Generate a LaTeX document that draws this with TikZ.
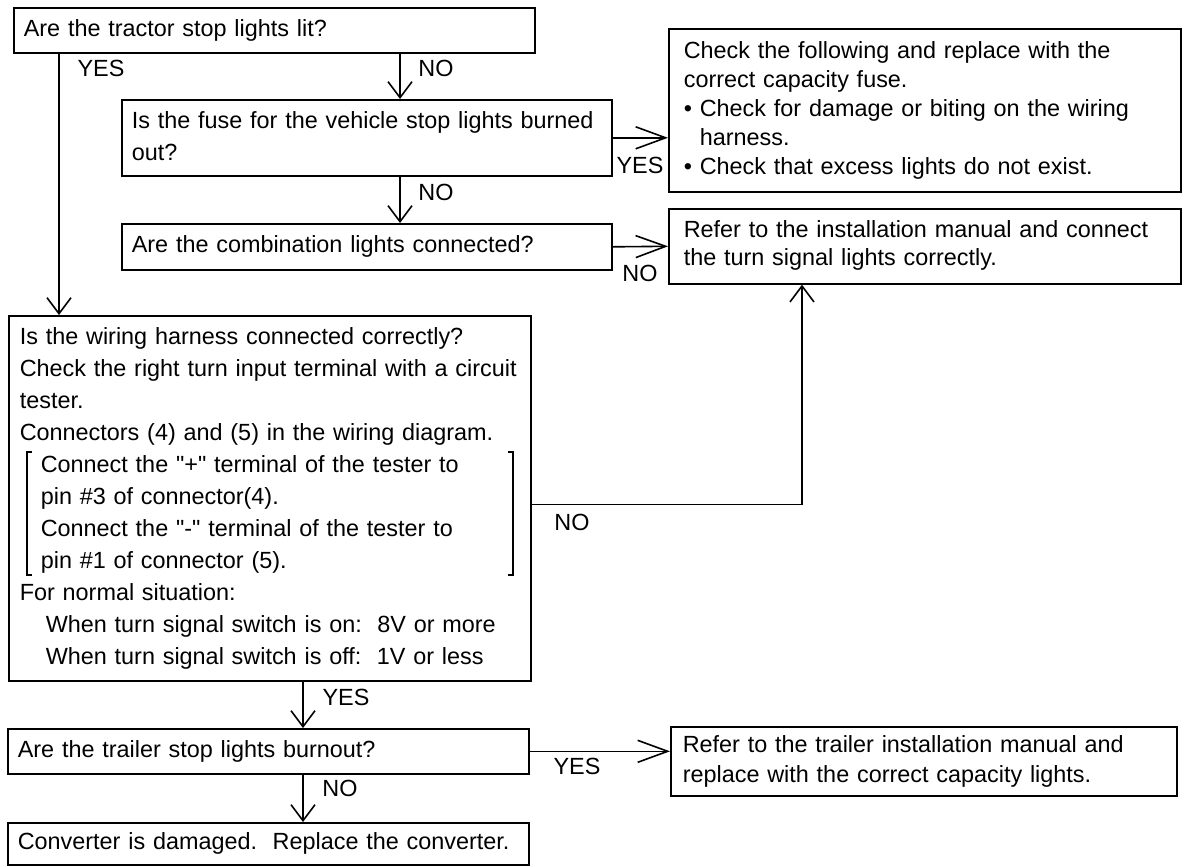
\documentclass[tikz,border=0pt]{standalone}
\usepackage{fontspec}
\setmainfont{Liberation Sans}
\usetikzlibrary{arrows.meta, positioning}

\newcommand{\boxlines}[1]{\begin{tabular}{@{}l@{}}#1\end{tabular}}
\newcommand{\dq}{\XeTeXglyph\the\XeTeXcharglyph34\relax}

\tikzset{
  box/.style={draw, line width=0.8bp, anchor=north west, align=left,
    inner xsep=5bp, inner ysep=0pt, font=\fontsize{11.7bp}{15bp}\selectfont},
  lbl/.style={font=\fontsize{11.7bp}{15bp}\selectfont, inner sep=0pt},
  conn/.style={->, line width=0.8bp},
  hconn/.style={-{Straight Barb[length=15bp, width=11bp]}, line width=0.8bp},
}

\begin{document}
\begin{tikzpicture}[x=0.5bp, y=-0.5bp, >={Straight Barb[length=8bp, width=12bp]}]
  \useasboundingbox (0,0) rectangle (1194,866);

  % questions on the left
  \node[box, text width=250.5bp, minimum height=22.5bp] (tractor) at (13,7) {\boxlines{Are the tractor stop lights lit?}};
  \node[box, text width=235bp, minimum height=38bp, font=\fontsize{11.7bp}{16bp}\selectfont] (fuse) at (121,99)
    {\boxlines{Is the fuse for the vehicle stop lights burned\\out?}};
  \node[box, text width=235bp, minimum height=23bp] (comb) at (121,223) {\boxlines{Are the combination lights connected?}};
  \node[box, inner xsep=5.5bp, text width=250bp, minimum height=182.5bp, font=\fontsize{11.7bp}{16bp}\selectfont] (harness) at (8,315)
    {\boxlines{Is the wiring harness connected correctly?\\
     Check the right turn input terminal with a circuit\\
     tester.\\
     Connectors (4) and (5) in the wiring diagram.\\
     \hspace*{10.5bp}Connect the \dq+\dq{} terminal of the tester to\\
     \hspace*{10.5bp}pin \#3 of connector(4).\\
     \hspace*{10.5bp}Connect the \dq-\dq{} terminal of the tester to\\
     \hspace*{10.5bp}pin \#1 of connector (5).\\
     For normal situation:\\
     \hspace*{13bp}When turn signal switch is on:\ \ 8V or more\\
     \hspace*{13bp}When turn signal switch is off:\ \ 1V or less}};
  \node[box, text width=250.5bp, minimum height=22.5bp] (trailer) at (7,728) {\boxlines{Are the trailer stop lights burnout?}};
  \node[box, text width=250.5bp, minimum height=21bp] (converter) at (7,822) {\boxlines{Converter is damaged.\ \ Replace the converter.}};

  % remedies on the right
  \node[box, inner xsep=7.5bp, text width=241bp, minimum height=81.5bp, font=\fontsize{11.7bp}{14.5bp}\selectfont] (fusefix) at (668,28)
    {\boxlines{Check the following and replace with the\\
     correct capacity fuse.\\
     • Check for damage or biting on the wiring\\
     \phantom{• }harness.\\
     • Check that excess lights do not exist.}};
  \node[box, inner xsep=7.5bp, text width=241bp, minimum height=37.5bp, font=\fontsize{11.7bp}{14bp}\selectfont] (connfix) at (668,208)
    {\boxlines{Refer to the installation manual and connect\\the turn signal lights correctly.}};
  \node[box, inner xsep=6bp, text width=241bp, minimum height=34.5bp] (trailerfix) at (670,726)
    {\boxlines{Refer to the trailer installation manual and\\replace with the correct capacity lights.}};

  % brackets round the tester steps
  \draw[line width=0.7bp] (32,452) -- (27,452) -- (27,575) -- (32,575);
  \draw[line width=0.7bp] (508,452) -- (513,452) -- (513,575) -- (508,575);

  % connectors
  \coordinate (xl) at (59,0);
  \coordinate (xm) at (400,0);
  \coordinate (xr) at (802,0);
  \coordinate (xb) at (303,0);
  \draw[conn] (xl |- tractor.south) -- (xl |- harness.north);
  \draw[conn] (xm |- tractor.south) -- (xm |- fuse.north);
  \draw[hconn] (fuse.east) -- (fuse.east -| fusefix.west);
  \draw[conn] (xm |- fuse.south) -- (xm |- comb.north);
  \draw[hconn] (comb.east) -- (connfix.west);
  \draw[conn] ([yshift=-3bp]harness.east) -| (xr |- connfix.south);
  \draw[conn] (xb |- harness.south) -- (xb |- trailer.north);
  \draw[conn] (xb |- trailer.south) -- (xb |- converter.north);
  \draw[hconn] (trailer.east) -- (trailer.east -| trailerfix.west);

  % answers
  \node[lbl] (yes1) at (101,68) {YES};
  \node[lbl] (no1) at (436,68) {NO};
  \node[lbl] (yes2) at (640,165) {YES};
  \node[lbl] (no2) at (436,192) {NO};
  \node[lbl] (no3) at (640,273) {NO};
  \node[lbl] (no4) at (572,522) {NO};
  \node[lbl] (yes3) at (346,697) {YES};
  \node[lbl] (no5) at (340,788) {NO};
  \node[lbl] (yes4) at (577,766) {YES};
\end{tikzpicture}
\end{document}
